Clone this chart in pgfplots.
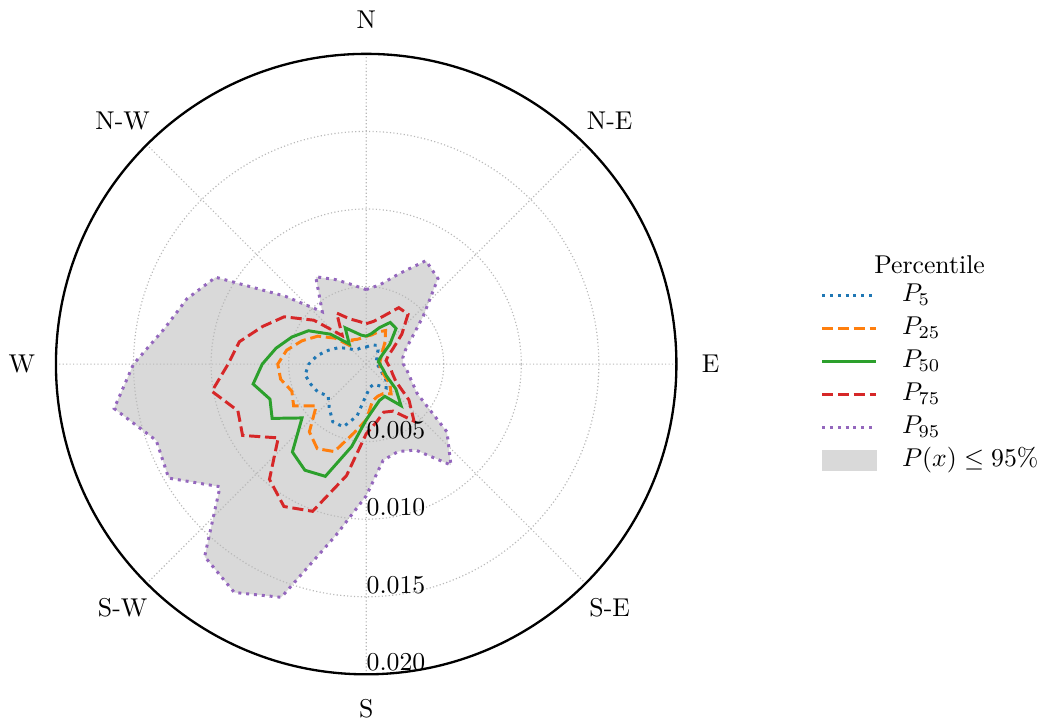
\documentclass[border=0pt]{standalone}
\usepackage{pgfplots}
\pgfplotsset{compat=1.18}
\usepackage{pgfplotstable}
\usepgfplotslibrary{polar}

\definecolor{tabblue}{HTML}{1F77B4}
\definecolor{taborange}{HTML}{FF7F0E}
\definecolor{tabgreen}{HTML}{2CA02C}
\definecolor{tabred}{HTML}{D62728}
\definecolor{tabpurple}{HTML}{9467BD}
\definecolor{fillgray}{HTML}{D9D9D9}

% direction in compass degrees (0 = N, clockwise)
\pgfplotstableread{
dir p5 p25 p50 p75 p95
0   0.0011 0.0018 0.0018 0.0026 0.0048
10  0.0012 0.0019 0.0020 0.0028 0.0052
20  0.0013 0.0022 0.0025 0.0033 0.0062
30  0.0014 0.0025 0.0031 0.0042 0.0077
40  0.0012 0.0019 0.0030 0.0042 0.0072
50  0.0009 0.0014 0.0020 0.0030 0.0048
60  0.0008 0.0011 0.0012 0.0020 0.0034
70  0.0007 0.0010 0.0009 0.0015 0.0027
80  0.0007 0.0009 0.0008 0.0013 0.0024
90  0.0007 0.0009 0.0009 0.0014 0.0024
100 0.0008 0.0009 0.0010 0.0016 0.0027
110 0.0010 0.0010 0.0012 0.0018 0.0031
120 0.0012 0.0013 0.0015 0.0022 0.0038
130 0.0017 0.0020 0.0025 0.0036 0.0068
140 0.0020 0.0025 0.0035 0.0048 0.0085
150 0.0016 0.0022 0.0024 0.0035 0.0064
160 0.0014 0.0022 0.0025 0.0033 0.0060
170 0.0015 0.0024 0.0029 0.0038 0.0063
180 0.0020 0.0036 0.0036 0.0045 0.0085
190 0.0034 0.0045 0.0054 0.0073 0.0112
200 0.0043 0.0060 0.0077 0.0101 0.0160
210 0.0043 0.0063 0.0079 0.0106 0.0170
220 0.0037 0.0057 0.0074 0.0097 0.0162
230 0.0032 0.0042 0.0054 0.0074 0.0123
240 0.0036 0.0054 0.0070 0.0092 0.0147
250 0.0038 0.0051 0.0066 0.0088 0.0144
260 0.0040 0.0056 0.0074 0.0101 0.0165
270 0.0037 0.0057 0.0067 0.0089 0.0150
280 0.0032 0.0052 0.0059 0.0083 0.0132
290 0.0026 0.0044 0.0051 0.0071 0.0123
300 0.0021 0.0036 0.0043 0.0061 0.0112
310 0.0016 0.0026 0.0030 0.0044 0.0068
320 0.0012 0.0015 0.0017 0.0024 0.0044
330 0.0011 0.0018 0.0027 0.0038 0.0065
340 0.0011 0.0017 0.0022 0.0031 0.0058
350 0.0011 0.0017 0.0019 0.0028 0.0052
360 0.0011 0.0018 0.0018 0.0026 0.0048
}\winddata

\begin{document}
\begin{tikzpicture}
\begin{polaraxis}[
  scale only axis,
  width=241pt, height=241pt,
  xmin=0, xmax=360, ymin=0, ymax=0.02,
  xtick={0,45,...,315}, xticklabels={},
  ytick={0.005,0.01,0.015,0.02}, yticklabels={},
  scaled y ticks=false,
  major tick length=0pt,
  tick style={draw=none},
  grid=major,
  major grid style={gray!55, line width=0.45pt, dash pattern=on 0.45pt off 0.9pt},
  x axis line style={black, line width=0.9pt},
  y axis line style={draw=none},
  clip=false,
  set layers,
  legend cell align=left,
  legend style={draw=none, fill=none, at={(axis description cs:1.2315,0.478)}, anchor=west,
    row sep=0.8pt, inner sep=0pt,
    nodes={inner sep=1pt, text height=7.5pt, text depth=2.5pt},
    /tikz/every odd column/.append style={column sep=8.5pt}},
  legend image code/.code={\draw[#1] (0pt,0pt) -- (21pt,0pt);},
]
\addplot[on layer=axis background, fill=fillgray, draw=none, forget plot]
  table[x expr={mod(450-\thisrow{dir},360)}, y=p95]{\winddata};

\addplot[tabblue, line width=1.15pt, dash pattern=on 1.15pt off 1.9pt, no markers]
  table[x expr={mod(450-\thisrow{dir},360)}, y=p5]{\winddata};
\addlegendentry{$P_{5}$}
\addplot[taborange, line width=1.15pt, dash pattern=on 4.3pt off 1.85pt, no markers]
  table[x expr={mod(450-\thisrow{dir},360)}, y=p25]{\winddata};
\addlegendentry{$P_{25}$}
\addplot[tabgreen, line width=1.15pt, solid, no markers]
  table[x expr={mod(450-\thisrow{dir},360)}, y=p50]{\winddata};
\addlegendentry{$P_{50}$}
\addplot[tabred, line width=1.15pt, dash pattern=on 4.3pt off 1.85pt, no markers]
  table[x expr={mod(450-\thisrow{dir},360)}, y=p75]{\winddata};
\addlegendentry{$P_{75}$}
\addplot[tabpurple, line width=1.15pt, dash pattern=on 1.15pt off 1.9pt, no markers]
  table[x expr={mod(450-\thisrow{dir},360)}, y=p95]{\winddata};
\addlegendentry{$P_{95}$}
\addlegendimage{legend image code/.code={\fill[fillgray] (0pt,-3.9pt) rectangle (21pt,3.9pt);}}
\addlegendentry{$P(x) \leq 95\%$}

% angular labels
\node at (axis cs:90,0.0222) {N};
\node at (axis cs:45,0.0222) {N-E};
\node at (axis cs:0,0.0222) {E};
\node at (axis cs:315,0.0222) {S-E};
\node at (axis cs:270,0.0222) {S};
\node at (axis cs:225,0.0222) {S-W};
\node at (axis cs:180,0.0222) {W};
\node at (axis cs:135,0.0222) {N-W};
% radial labels
\node[anchor=base west, inner sep=0pt, yshift=1.4pt] at (axis cs:270,0.005) {0.005};
\node[anchor=base west, inner sep=0pt, yshift=1.4pt] at (axis cs:270,0.010) {0.010};
\node[anchor=base west, inner sep=0pt, yshift=1.4pt] at (axis cs:270,0.015) {0.015};
\node[anchor=base west, inner sep=0pt, yshift=1.4pt] at (axis cs:270,0.020) {0.020};
% legend title
\node[anchor=base] at (axis description cs:1.408,0.6458) {Percentile};
% page frame
\path (axis description cs:-0.0884,-0.0707) rectangle (axis description cs:1.5852,1.0868);
\end{polaraxis}
\end{tikzpicture}
\end{document}
